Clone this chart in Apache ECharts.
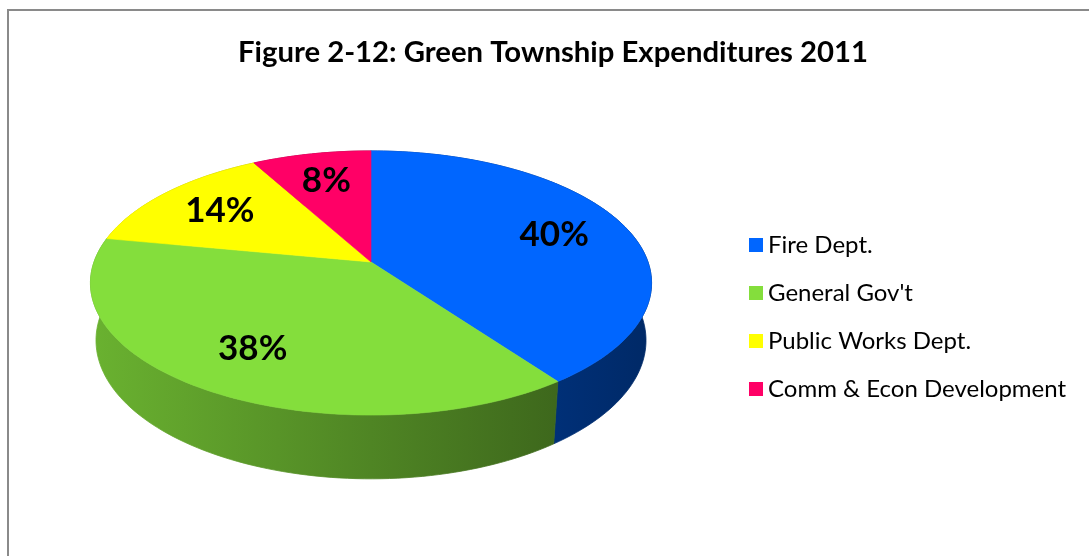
<!DOCTYPE html>
<html><head><meta charset="utf-8">
<script src="https://cdn.jsdelivr.net/npm/echarts@6.0.0/dist/echarts.min.js"></script>
<style>html,body{margin:0;padding:0;background:#fff}#c{width:1089px;height:556px}</style>
</head><body><div id="c"></div>
<script>
const categories = ['Fire Dept.', "General Gov't", 'Public Works Dept.', 'Comm & Econ Development'];
const values = [40, 38, 14, 8];
const colors = ['#0066ff', '#84de3c', '#ffff00', '#ff0066'];
const titleText = 'Figure 2-12: Green Township Expenditures 2011';

const total = values.reduce((a, b) => a + b, 0);
// 3D pie projection parameters (layout, not data)
const PIE = { cx: 371, cy: 262, k: 277, tilt: 27.7, dist: 5.57, depth: 0.236, labelR: 0.72 };
const sA = Math.sin(PIE.tilt * Math.PI / 180), cA = Math.cos(PIE.tilt * Math.PI / 180);
function proj(angDeg, r, level) {
  const t = angDeg * Math.PI / 180;
  const x = r * Math.sin(t), z = -r * Math.cos(t), y = -level * PIE.depth;
  const sy = y * cA - z * sA;
  const dz = y * sA + z * cA;
  const sc = PIE.dist / (PIE.dist - dz);
  return [PIE.cx + PIE.k * x * sc, PIE.cy - PIE.k * sy * sc];
}
function shade(hex, f) {
  const n = parseInt(hex.slice(1), 16);
  const r = Math.round(((n >> 16) & 255) * f), g = Math.round(((n >> 8) & 255) * f), b = Math.round((n & 255) * f);
  return 'rgb(' + r + ',' + g + ',' + b + ')';
}
function makeRender(i) {
  return function (params, api) {
    const start = values.slice(0, i).reduce((a, b) => a + b, 0) / total * 360;
    const end = start + api.value(0) / total * 360;
    const n = Math.max(10, Math.ceil((end - start) / 1.5));
    const rimTop = [], rimBot = [];
    for (let j = 0; j <= n; j++) {
      const a = start + (end - start) * j / n;
      rimTop.push(proj(a, 1, 0));
      rimBot.push(proj(a, 1, 1));
    }
    const sidePts = rimTop.concat(rimBot.slice().reverse());
    const topPts = [proj(0, 0, 0)].concat(rimTop);
    const xl = PIE.cx - PIE.k * 1.013, xr = PIE.cx + PIE.k * 1.013;
    const grad = new echarts.graphic.LinearGradient(xl, 0, xr, 0, [
      { offset: 0, color: shade(colors[i], 0.8) },
      { offset: 0.5, color: shade(colors[i], 0.6) },
      { offset: 1, color: shade(colors[i], 0.4) }
    ], true);
    const mid = (start + end) / 2;
    const lp = proj(mid, PIE.labelR, 0);
    const pct = Math.round(api.value(0) / total * 100) + '%';
    return {
      type: 'group',
      children: [
        { type: 'polygon', shape: { points: sidePts }, style: { fill: grad, stroke: grad, lineWidth: 0.8 }, z2: 1 },
        { type: 'polygon', shape: { points: topPts }, style: { fill: colors[i], stroke: colors[i], lineWidth: 0.6 }, z2: 10 },
        { type: 'text', x: lp[0], y: lp[1], style: { text: pct, fill: '#000', font: 'bold 35px Lato', align: 'center', verticalAlign: 'middle' }, z2: 20 }
      ]
    };
  };
}

const chart = echarts.init(document.getElementById('c'), null, { renderer: 'canvas' });
chart.setOption({
  backgroundColor: '#fff',
  animation: false,
  graphic: [
    { type: 'rect', shape: { x: 8, y: 10, width: 1200, height: 700 }, style: { fill: null, stroke: '#8a8a8a', lineWidth: 2 }, silent: true },
    { type: 'text', x: 553, y: 53, style: { text: titleText, fill: '#000', font: 'bold 29.3px Lato', align: 'center', verticalAlign: 'middle' } }
  ],
  legend: {
    data: categories,
    orient: 'vertical',
    left: 749,
    top: 233,
    padding: 0,
    itemWidth: 14,
    itemHeight: 14,
    itemGap: 24,
    icon: 'rect',
    selectedMode: false,
    textStyle: { fontFamily: 'Lato', fontSize: 24, color: '#000', lineHeight: 24 }
  },
  series: categories.map((name, i) => ({
    type: 'custom',
    name: name,
    coordinateSystem: 'none',
    itemStyle: { color: colors[i] },
    data: [[values[i]]],
    renderItem: makeRender(i)
  }))
});
</script></body></html>
